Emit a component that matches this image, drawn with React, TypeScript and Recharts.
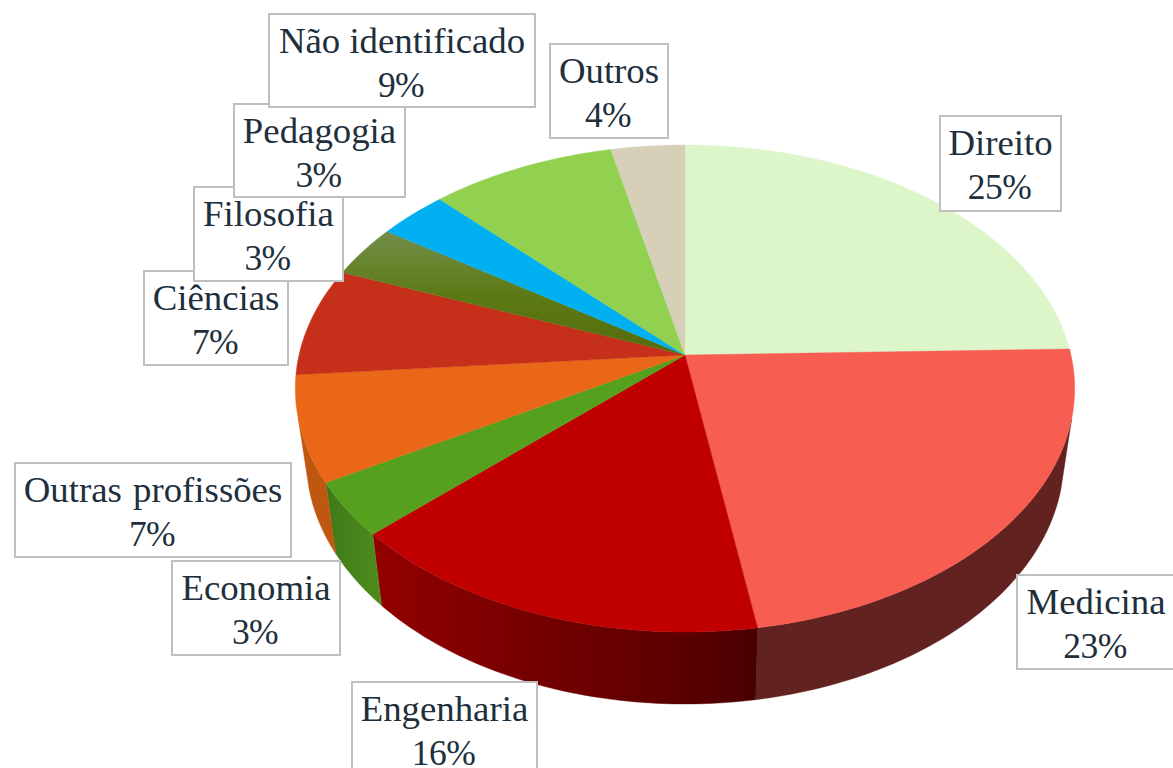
import React from 'react';
import { PieChart, Pie } from 'recharts';

const categories = ['Direito', 'Medicina', 'Engenharia', 'Economia', 'Outras profissões', 'Ciências', 'Filosofia', 'Pedagogia', 'Não identificado', 'Outros'];
const values = [24.6, 22.8, 15.7, 3.6, 7, 7.2, 3.5, 3.3, 8.8, 3.5];
const percentLabels = ['25%', '23%', '16%', '3%', '7%', '7%', '3%', '3%', '9%', '4%'];
const topColors = ['#dcf5c9', '#f85d52', '#c00000', '#55a11e', '#e96717', '#c62f1a', 'url(#filosofiaTop)', '#00b0f0', '#92d050', '#d7cfb8'];
const wallColors = ['#a8bd99', '#612220', 'url(#engenhariaWall)', 'url(#economiaWall)', '#bf5711', '#8c2012', '#4f640e', '#007fad', '#688f38', '#99927f'];

// x, y, w, h of the label boxes, same order as categories
const labelBoxes = [
  [940, 116, 121, 95],
  [1017, 575, 158, 94],
  [352, 682, 185, 94],
  [172, 561, 168, 94],
  [15, 463, 276, 94],
  [144, 271, 144, 94],
  [194, 187, 149, 94],
  [234, 104, 171, 93],
  [269, 14, 266, 93],
  [550, 44, 118, 94],
];

const data = categories.map((name, i) => ({ name, value: values[i], percent: percentLabels[i], fill: topColors[i] }));

const SQUASH = 0.619; // vertical squash of the disc
const PERSPECTIVE = 0.1376; // back of the disc shrinks, front grows
const DEPTH = 70;
const WALL_SCALE = 0.972; // lower rim is a bit narrower
const WALL_FROM = -165.2; // math angles of the silhouette, right side
const WALL_TO = -14.8;

function project(cx: number, cy: number, r: number, deg: number) {
  const a = (deg * Math.PI) / 180;
  const u = Math.cos(a);
  const v = Math.sin(a);
  const w = 1 + PERSPECTIVE * v;
  return { x: cx + (r * u) / w, y: cy - (r * SQUASH * v) / w };
}

function arcAngles(from: number, to: number) {
  const n = Math.max(2, Math.ceil(Math.abs(to - from)));
  const out: number[] = [];
  for (let i = 0; i <= n; i++) out.push(from + ((to - from) * i) / n);
  return out;
}

function Slice(props: any) {
  const { cx, cy, outerRadius: r, startAngle, endAngle, index } = props;
  const top = arcAngles(startAngle, endAngle).map((d) => project(cx, cy, r, d));
  const topPath = `M${cx},${cy} ` + top.map((p) => `L${p.x.toFixed(2)},${p.y.toFixed(2)}`).join(' ') + ' Z';

  // side wall: only the part of the rim that faces the viewer
  const lo = Math.max(Math.min(startAngle, endAngle), WALL_FROM);
  const hi = Math.min(Math.max(startAngle, endAngle), WALL_TO);
  let wallPath = '';
  if (hi > lo) {
    const rim = arcAngles(lo, hi).map((d) => project(cx, cy, r, d));
    const lower = rim
      .map((p) => ({ x: cx + (p.x - cx) * WALL_SCALE, y: cy + DEPTH + (p.y - cy) * 1.007 }))
      .reverse();
    wallPath = 'M' + rim.concat(lower).map((p) => `${p.x.toFixed(2)},${p.y.toFixed(2)}`).join(' L') + ' Z';
  }

  return (
    <g>
      {wallPath && <path d={wallPath} fill={wallColors[index]} stroke={wallColors[index]} strokeWidth={0.4} />}
      <path d={topPath} fill={topColors[index]} stroke={topColors[index]} strokeWidth={0.4} />
    </g>
  );
}

function BoxLabel(props: any) {
  const { index } = props;
  const [x, y, w, h] = labelBoxes[index];
  const mid = x + w / 2;
  return (
    <g fontFamily="'Liberation Serif', serif" fontSize={36.8} fill="#212f3c" textAnchor="middle">
      <rect x={x} y={y} width={w} height={h} fill="#ffffff" stroke="#bfbfbf" strokeWidth={2} />
      <text x={mid} y={y + 39} wordSpacing={categories[index] === 'Outras profissões' ? 2 : 0}>{categories[index]}</text>
      <text x={mid - 1} y={y + 83} fontSize={35.5} letterSpacing={-0.6}>{percentLabels[index]}</text>
    </g>
  );
}

export default function App() {
  return (
    <div style={{ position: 'absolute', left: 0, top: 0, width: 1173, height: 768, background: '#ffffff', overflow: 'hidden' }}>
      <PieChart width={1173} height={768} margin={{ top: 0, right: 0, bottom: 0, left: 0 }}>
        <defs>
          <linearGradient id="filosofiaTop" gradientUnits="userSpaceOnUse" x1="0" y1="235" x2="0" y2="355">
            <stop offset="0" stopColor="#718d48" />
            <stop offset="0.5" stopColor="#5c7a14" />
            <stop offset="1" stopColor="#546c0d" />
          </linearGradient>
          <linearGradient id="engenhariaWall" gradientUnits="userSpaceOnUse" x1="373" y1="0" x2="757" y2="0">
            <stop offset="0" stopColor="#930000" />
            <stop offset="0.4" stopColor="#770000" />
            <stop offset="0.8" stopColor="#5c0000" />
            <stop offset="1" stopColor="#470000" />
          </linearGradient>
          <linearGradient id="economiaWall" gradientUnits="userSpaceOnUse" x1="328" y1="0" x2="382" y2="0">
            <stop offset="0" stopColor="#3f7a18" />
            <stop offset="1" stopColor="#4f8c1c" />
          </linearGradient>
        </defs>
        <Pie
          data={data}
          dataKey="value"
          nameKey="name"
          cx={685}
          cy={355}
          innerRadius={0}
          outerRadius={386}
          startAngle={90}
          endAngle={-270}
          stroke="none"
          rootTabIndex={-1}
          shape={Slice}
          label={BoxLabel}
          labelLine={false}
          isAnimationActive={false}
        />
      </PieChart>
    </div>
  );
}
